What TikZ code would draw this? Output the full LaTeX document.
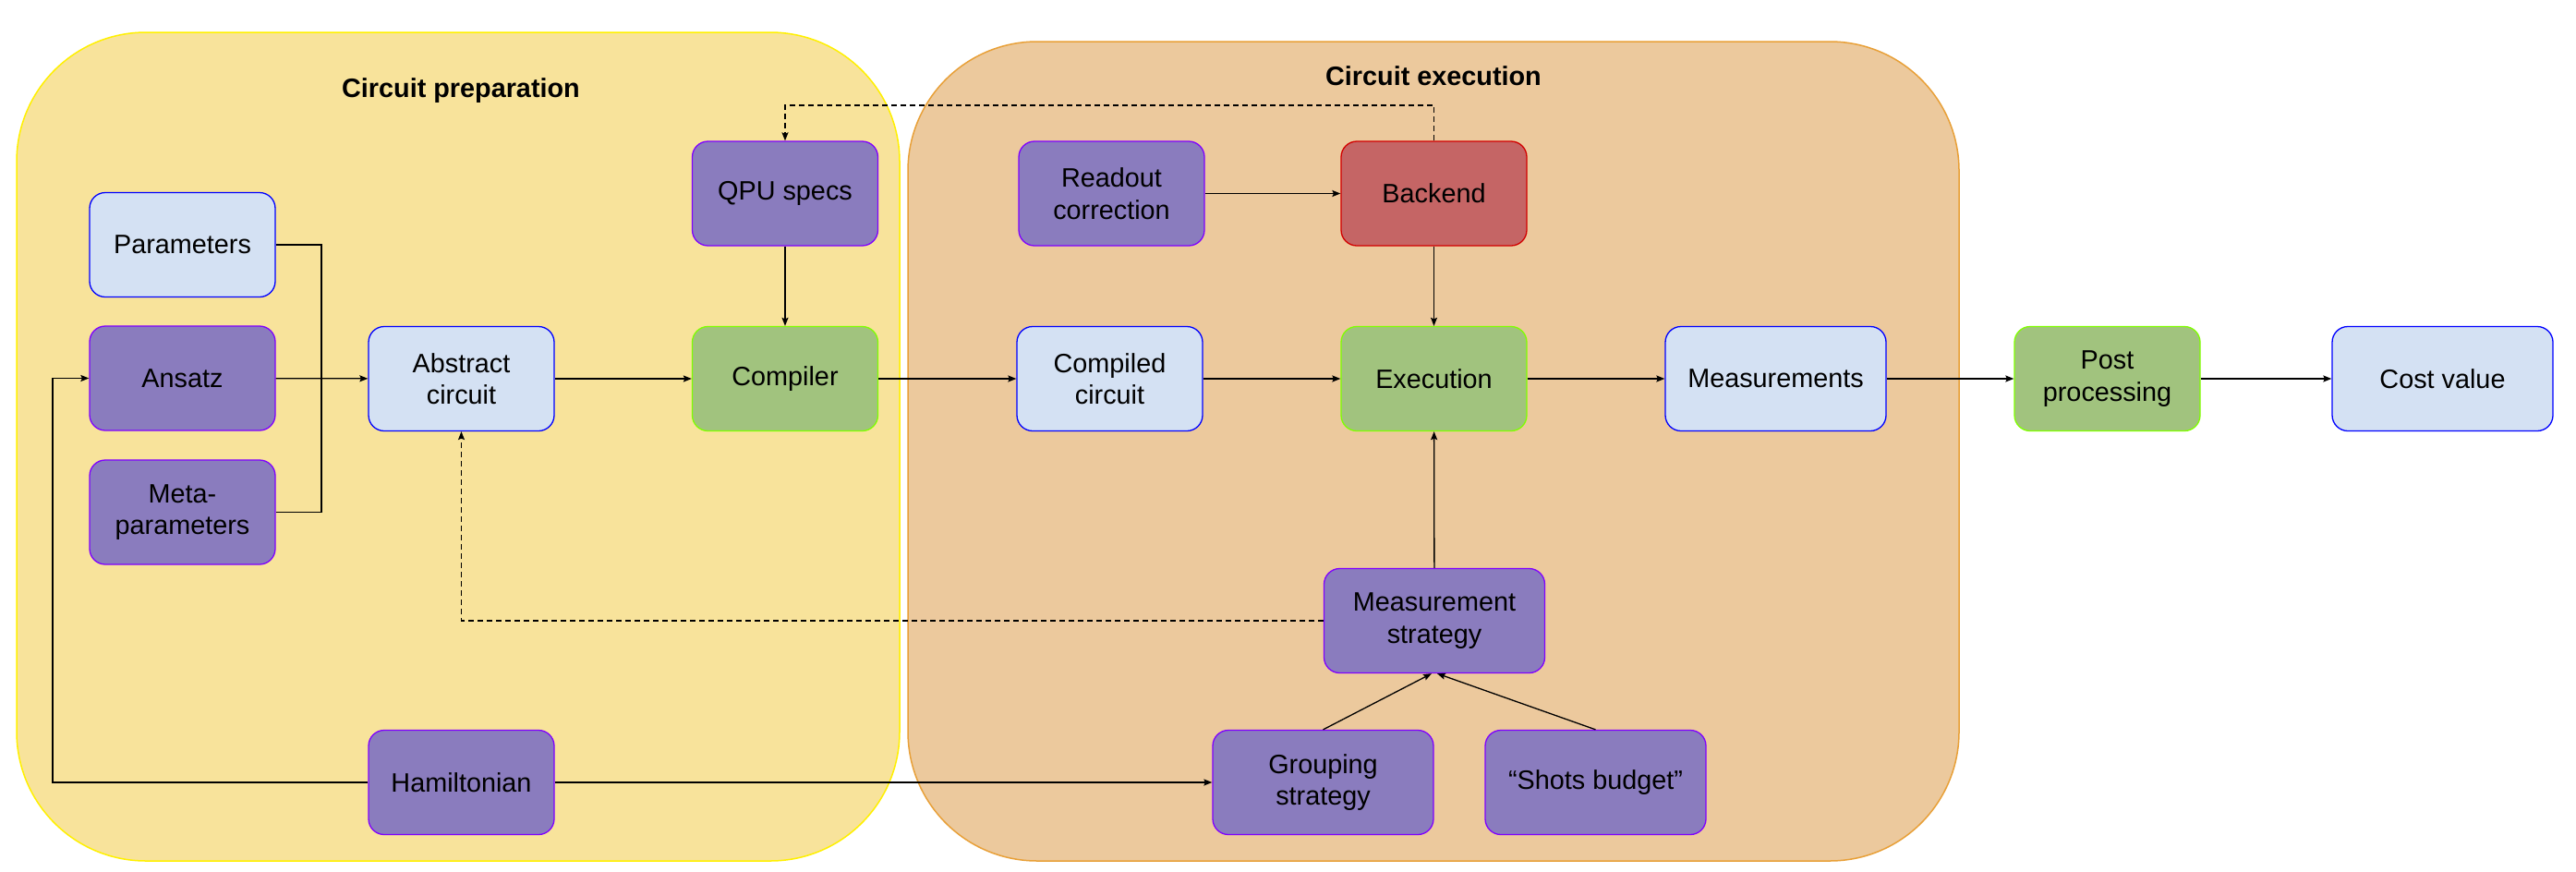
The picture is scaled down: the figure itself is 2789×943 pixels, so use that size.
\documentclass[tikz,border=0pt]{standalone}
\usepackage{fontspec}
\setmainfont{Liberation Sans}
\usetikzlibrary{positioning,arrows}
\usetikzlibrary{arrows.meta}

\definecolor{prepfill}{RGB}{248,227,155}
\definecolor{prepline}{RGB}{255,240,0}
\definecolor{execfill}{RGB}{236,201,157}
\definecolor{execline}{RGB}{232,160,56}
\definecolor{purplefill}{RGB}{138,124,190}
\definecolor{purpleline}{RGB}{128,0,255}
\definecolor{bluefill}{RGB}{212,225,243}
\definecolor{blueline}{RGB}{0,0,255}
\definecolor{greenfill}{RGB}{161,195,126}
\definecolor{greenline}{RGB}{128,255,0}
\definecolor{redfill}{RGB}{197,101,101}
\definecolor{redline}{RGB}{210,0,0}

\tikzset{
  box/.style={rectangle, rounded corners=17pt, line width=1.3pt, minimum width=201pt,
    minimum height=113pt, align=center, inner sep=0pt,
    font=\fontsize{28.8pt}{34.5pt}\selectfont},
  widebox/.style={box, minimum width=239pt},
  userbox/.style={fill=purplefill, draw=purpleline},
  databox/.style={fill=bluefill, draw=blueline},
  procbox/.style={fill=greenfill, draw=greenline},
  hwbox/.style={fill=redfill, draw=redline},
  flow/.style={line width=1.3pt, -{Stealth[length=9pt,width=7pt,inset=1.5pt]}},
  feedback/.style={flow, dash pattern=on 6pt off 4pt},
  title/.style={font=\fontsize{28.8pt}{34.5pt}\selectfont\bfseries}
}

\begin{document}
\begin{tikzpicture}[x=1pt,y=-1pt]
\useasboundingbox (0,0) rectangle (2789,943);

% stages
\draw[fill=prepfill, draw=prepline, line width=1.5pt, rounded corners=140pt] (18,35) rectangle (974,932);
\draw[fill=execfill, draw=execline, line width=1.5pt, rounded corners=140pt] (983,45) rectangle (2121,932);
\node[title] (preptitle) at (499,98) {Circuit preparation};
\node[title] (exectitle) at (1552,82) {Circuit execution};

% circuit preparation
\node[box,databox] (params) at (197.5,265) {Parameters};
\node[box,userbox] (ansatz) at (197.5,409.5) {Ansatz};
\node[box,userbox] (meta) at (197.5,554.5) {Meta-\\parameters};
\node[box,databox] (abstract) at (499.5,410) {Abstract\\circuit};
\node[box,userbox] (ham) at (499.5,847) {Hamiltonian};
\node[box,userbox] (qpu) at (850,209.5) {QPU specs};
\node[box,procbox] (compiler) at (850,410) {Compiler};

% circuit execution
\node[box,userbox] (readout) at (1203.5,209.5) {Readout\\correction};
\node[box,hwbox] (backend) at (1552.5,209.5) {Backend};
\node[box,databox] (compiled) at (1201.5,410) {Compiled\\circuit};
\node[box,procbox] (execution) at (1552.5,410) {Execution};
\node[widebox,databox] (meas) at (1922.5,410) {Measurements};
\node[widebox,userbox] (mstrat) at (1553,672) {Measurement\\strategy};
\node[widebox,userbox] (grouping) at (1432.5,847) {Grouping\\strategy};
\node[widebox,userbox] (shots) at (1727.5,847) {``Shots budget''};

% after execution
\node[box,procbox] (post) at (2281.5,410) {Post\\processing};
\node[widebox,databox] (cost) at (2644.5,410) {Cost value};

\coordinate (join) at (348,410);
\coordinate (hamleft) at (57,847);
\coordinate (dashtop) at (1200,114);

\draw[line width=1.3pt] (params.east) -| (join);
\draw[line width=1.3pt] (meta.east) -| (join);
\draw[flow] (ansatz) -- (abstract);
\draw[flow] (ham.west) -- (hamleft) |- (ansatz.west);
\draw[flow] (ham.east) -- (grouping.west);
\draw[flow] (abstract) -- (compiler);
\draw[flow] (qpu) -- (compiler);
\draw[flow] (compiler) -- (compiled);
\draw[flow] (compiled) -- (execution);
\draw[flow] (readout) -- (backend);
\draw[flow] (backend) -- (execution);
\draw[flow] (mstrat) -- (execution);
\draw[flow] (execution) -- (meas);
\draw[flow] (meas) -- (post);
\draw[flow] (post) -- (cost);
\draw[flow] (grouping.north) -- ([xshift=-3pt]mstrat.south);
\draw[flow] (shots.north) -- ([xshift=3pt]mstrat.south);
\draw[feedback] (backend.north) |- (dashtop) -| (qpu.north);
\draw[feedback] (mstrat.west) -| (abstract.south);

\end{tikzpicture}
\end{document}
